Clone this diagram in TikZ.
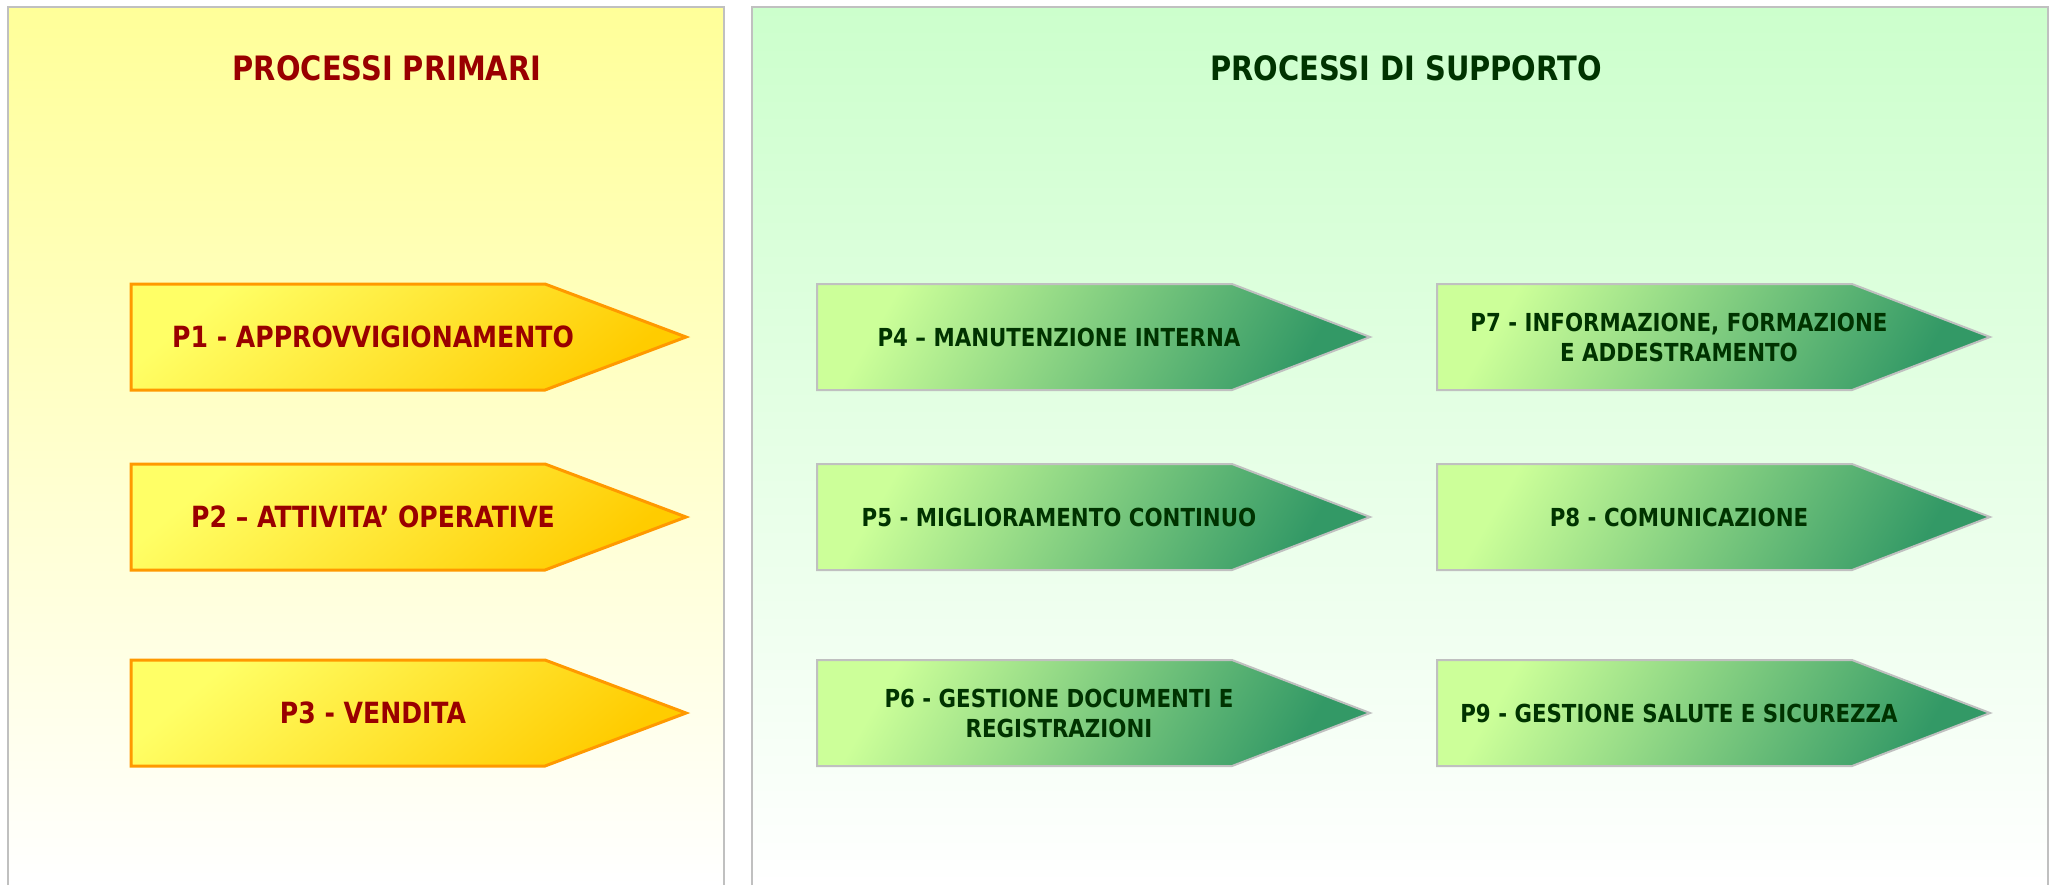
\documentclass[tikz,border=0pt]{standalone}
\usepackage{fontspec}
\setmainfont{DejaVu Sans}
\newfontfamily\strettofont[FakeStretch=0.86]{DejaVu Sans}
\definecolor{bordogrigio}{HTML}{C0C0C0}
\definecolor{gialloalto}{HTML}{FFFF99}
\definecolor{verdealto}{HTML}{CCFFCC}
\definecolor{giallochiaro}{HTML}{FFFF66}
\definecolor{giallocupo}{HTML}{FFCC00}
\definecolor{arancio}{HTML}{FF9900}
\definecolor{verdechiaro}{HTML}{CCFF99}
\definecolor{verdecupo}{HTML}{339966}
\definecolor{rossoscuro}{HTML}{990000}
\definecolor{verdescuro}{HTML}{003300}
\tikzset{
	pannello/.style={draw=bordogrigio,line width=1pt},
	gialla/.style={draw=arancio,line width=1.5pt,top color=giallochiaro,bottom color=giallocupo,shading angle=40},
	verde/.style={draw=bordogrigio,line width=1pt,top color=verdechiaro,bottom color=verdecupo,shading angle=60},
	titolo/.style={font=\strettofont\bfseries\fontsize{16.8}{20}\selectfont},
	testogiallo/.style={text=rossoscuro,font=\strettofont\bfseries\fontsize{14.6}{17}\selectfont},
	testoverde/.style={text=verdescuro,align=center,font=\strettofont\bfseries\fontsize{12.4}{15}\selectfont},
}
\begin{document}
\begin{tikzpicture}[x=0.5pt,y=-0.5pt]
	\useasboundingbox(0,0)rectangle(2060,885);
	% pannelli
	\shade[top color=gialloalto,bottom color=white](8,7)rectangle(724,885);
	\shade[top color=verdealto,bottom color=white](752,7)rectangle(2048,885);
	\draw[pannello](8,885)--(8,7)--(724,7)--(724,885);
	\draw[pannello](752,885)--(752,7)--(2048,7)--(2048,885);
	\node[titolo,text=rossoscuro](primari)at(387,68){PROCESSI PRIMARI};
	\node[titolo,text=verdescuro](supporto)at(1406,68){PROCESSI DI SUPPORTO};
	% processi primari
	\foreach \y/\nome/\testo in {284/p1/{P1 - APPROVVIGIONAMENTO},
			464/p2/{P2 – ATTIVITA’ OPERATIVE},660/p3/{P3 - VENDITA}}{
		\path[gialla](131,\y)--++(414,0)--++(141,53)--++(-141,53)--++(-414,0)--cycle;
		\node[testogiallo](\nome)at(373,\y+53){\testo};
	}
	% processi di supporto
	\foreach \x/\y/\nome/\testo in {817/284/p4/{P4 – MANUTENZIONE INTERNA},
			817/464/p5/{P5 - MIGLIORAMENTO CONTINUO},
			817/660/p6/{P6 - GESTIONE DOCUMENTI E\\REGISTRAZIONI},
			1437/284/p7/{P7 - INFORMAZIONE, FORMAZIONE\\E ADDESTRAMENTO},
			1437/464/p8/{P8 - COMUNICAZIONE},
			1437/660/p9/{P9 - GESTIONE SALUTE E SICUREZZA}}{
		\path[verde](\x,\y)--++(415,0)--++(138,53)--++(-138,53)--++(-415,0)--cycle;
		\node[testoverde](\nome)at(\x+242,\y+53){\testo};
	}
\end{tikzpicture}
\end{document}
